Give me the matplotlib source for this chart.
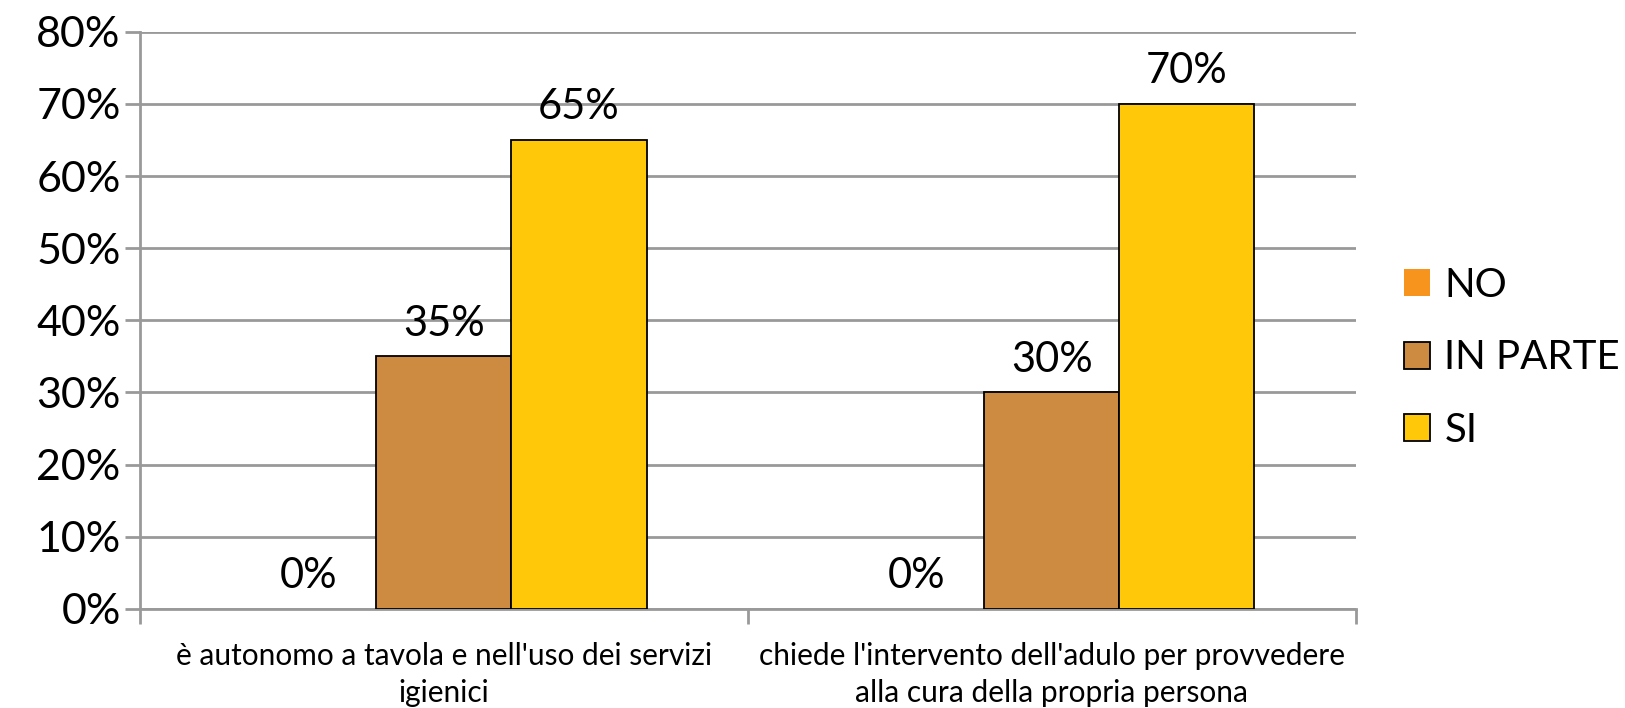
import numpy as np
import matplotlib.pyplot as plt
from matplotlib.ticker import PercentFormatter

categories = ["è autonomo a tavola e nell'uso dei servizi\nigienici",
              "chiede l'intervento dell'adulo per provvedere\nalla cura della propria persona"]
series = ['NO', 'IN PARTE', 'SI']
no_vals = [0, 0]
inparte_vals = [35, 30]
si_vals = [65, 70]
colors = ['#F7941D', '#CD8B41', '#FFC90A']

plt.rcParams['font.family'] = ['Lato', 'DejaVu Sans']

fig = plt.figure(figsize=(16.25, 7.08), dpi=100)
ax = fig.add_axes([0.0862, 0.140, 0.748, 0.815])

x = np.arange(len(categories))
w = 2 / 9
grid_col = '#999999'

for i, (name, vals, col) in enumerate(zip(series, [no_vals, inparte_vals, si_vals], colors)):
    edge = 'none' if name == 'NO' else 'black'
    bars = ax.bar(x + (i - 1) * w, vals, w, color=col, edgecolor=edge, linewidth=1.3,
                  label=name, zorder=3)
    for b, v in zip(bars, vals):
        ax.annotate(f'{v}%', (b.get_x() + b.get_width() / 2, v), xytext=(0, 10),
                    textcoords='offset points', ha='center', va='bottom', fontsize=30)

ax.set_xlim(-0.5, 1.5)
ax.set_ylim(0, 80)
ax.set_yticks(np.arange(0, 81, 10))
ax.yaxis.set_major_formatter(PercentFormatter(decimals=0))
ax.yaxis.grid(True, color=grid_col, linewidth=2, zorder=0)
ax.tick_params(axis='y', labelsize=31, length=11, width=2, color=grid_col, pad=3)

ax.set_xticks(x)
ax.set_xticklabels(categories, fontsize=21.5, linespacing=1.4)
ax.set_xticks([-0.5, 0.5, 1.5], minor=True)
ax.tick_params(axis='x', which='major', length=0, pad=24)
ax.tick_params(axis='x', which='minor', length=11, width=2, color=grid_col)

for s in ['top', 'right']:
    ax.spines[s].set_visible(False)
for s in ['left', 'bottom']:
    ax.spines[s].set_color(grid_col)
    ax.spines[s].set_linewidth(2)

ax.legend(loc='center left', bbox_to_anchor=(1.01, 0.435), frameon=False, fontsize=29,
          handlelength=0.65, handleheight=0.65, handletextpad=0.35, labelspacing=0.88)

fig.savefig('out.png', dpi=100)
